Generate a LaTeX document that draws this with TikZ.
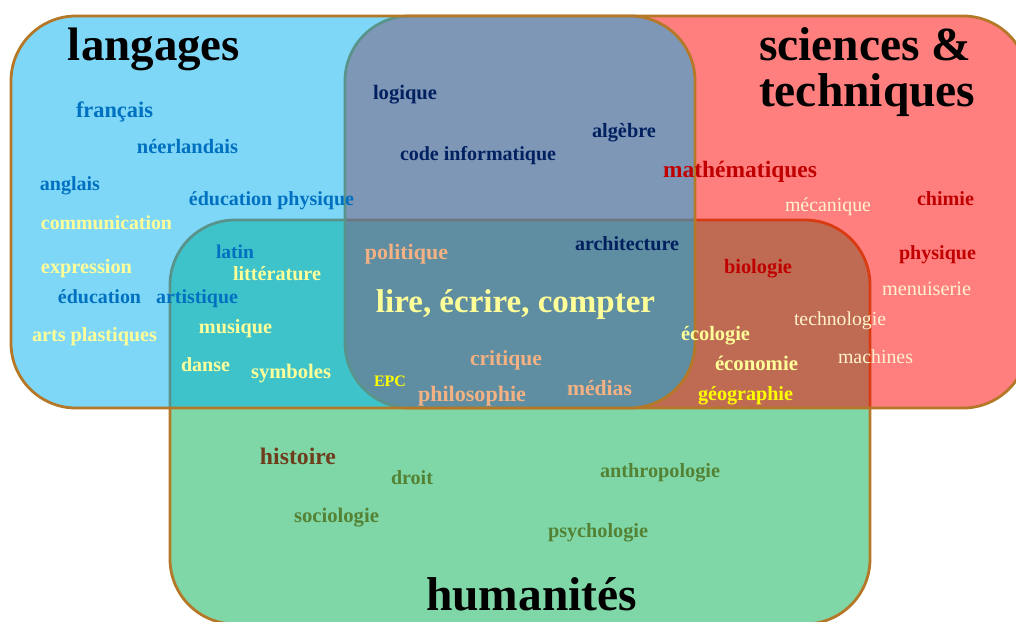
\documentclass[tikz,border=0pt]{standalone}
\usepackage{fontspec}
\setmainfont{Liberation Serif}
\usepackage{graphicx}
\definecolor{zblue}{HTML}{00B0F0}
\definecolor{zred}{HTML}{FF0000}
\definecolor{zgreen}{HTML}{00B050}
\definecolor{bordercol}{HTML}{B47828}
\definecolor{cblue}{HTML}{0070C0}
\definecolor{cpale}{HTML}{FFFF99}
\definecolor{ctan}{HTML}{F4B183}
\definecolor{cyel}{HTML}{FFFF00}
\definecolor{cnavy}{HTML}{002060}
\definecolor{cdred}{HTML}{C00000}
\definecolor{ccream}{HTML}{FFF2CC}
\definecolor{colive}{HTML}{548235}
\definecolor{cbrown}{HTML}{6E3E1C}
\newcommand{\fitto}[2]{\resizebox{#1pt}{!}{#2}}
\begin{document}
\begin{tikzpicture}[x=1pt,y=-1pt,
  lab/.style={inner sep=0pt, outer sep=0pt, anchor=base, yshift=-2pt},
  zone/.style={fill opacity=0.5, draw=bordercol, line width=2.8pt, rounded corners=65pt},
  tblue/.style={lab, text=cblue},
  tpale/.style={lab, text=cpale},
  ttan/.style={lab, text=ctan},
  tyel/.style={lab, text=cyel},
  tnavy/.style={lab, text=cnavy},
  tdred/.style={lab, text=cdred},
  tcream/.style={lab, text=ccream},
  tolive/.style={lab, text=colive},
  ttitle/.style={lab, text=black}]
\useasboundingbox (0,0) rectangle (1016,621);
\fill[white] (0,0) rectangle (1016,621);
\begin{scope}
\clip (0,0) rectangle (1016,621);
\path[zone, fill=zgreen] (170,220) rectangle (870,624);
\path[zone, fill=zred] (345,16) rectangle (1028,408);
\path[zone, fill=zblue] (11,16) rectangle (695,408);
\end{scope}

% titles
\node[ttitle] (langages) at (154,58) {\fitto{172}{\bfseries langages}};
\node[lab, anchor=base west, text=black] (sciences) at (759,58)
  {\fontsize{47.5}{45}\selectfont\bfseries\begin{tabular}[t]{@{}l@{}}sciences \&\\techniques\end{tabular}};
\node[ttitle] (humanites) at (531.5,608) {\fitto{211}{\bfseries humanités}};

% blue
\node[tblue] (francais) at (114.5,115) {\fitto{77}{\bfseries français}};
\node[tblue] (neerl) at (187.5,151) {\fitto{101}{\bfseries néerlandais}};
\node[tblue] (anglais) at (70,188) {\fitto{60}{\bfseries anglais}};
\node[tblue] (edphys) at (271.5,203) {\fitto{165}{\bfseries éducation physique}};
\node[tblue] (latin) at (235,256) {\fitto{38}{\bfseries latin}};
\node[tblue] (edart) at (148,301) {\fitto{180}{\bfseries éducation\hspace{0.75em}artistique}};

% pale yellow
\node[tpale] (comm) at (106.5,227) {\fitto{131}{\bfseries communication}};
\node[tpale] (expr) at (86.5,271) {\fitto{91}{\bfseries expression}};
\node[tpale] (litt) at (277,278) {\fitto{88}{\bfseries littérature}};
\node[tpale] (musique) at (235.5,331) {\fitto{73}{\bfseries musique}};
\node[tpale] (arts) at (94.5,339) {\fitto{125}{\bfseries arts plastiques}};
\node[tpale] (danse) at (205.5,369) {\fitto{49}{\bfseries danse}};
\node[tpale] (symb) at (291,376) {\fitto{80}{\bfseries symboles}};
\node[tpale] (lec) at (515.5,310) {\fitto{279}{\bfseries lire, écrire, compter}};
\node[tpale] (ecol) at (715.5,338) {\fitto{69}{\bfseries écologie}};
\node[tpale] (econ) at (756.5,368) {\fitto{83}{\bfseries économie}};

% tan
\node[ttan] (polit) at (406.5,257) {\fitto{83}{\bfseries politique}};
\node[ttan] (crit) at (506,363) {\fitto{72}{\bfseries critique}};
\node[ttan] (philo) at (472,399) {\fitto{108}{\bfseries philosophie}};
\node[ttan] (medias) at (599.5,393) {\fitto{65}{\bfseries médias}};

% yellow
\node[tyel] (epc) at (390,384) {\fitto{32}{\bfseries EPC}};
\node[tyel] (geo) at (745.5,398) {\fitto{95}{\bfseries géographie}};

% navy
\node[tnavy] (logique) at (405,97) {\fitto{64}{\bfseries logique}};
\node[tnavy] (algebre) at (624,135) {\fitto{64}{\bfseries algèbre}};
\node[tnavy] (code) at (478,158) {\fitto{156}{\bfseries code informatique}};
\node[tnavy] (archi) at (627,248) {\fitto{104}{\bfseries architecture}};

% dark red
\node[tdred] (maths) at (740,175) {\fitto{154}{\bfseries mathématiques}};
\node[tdred] (chimie) at (945.5,203) {\fitto{57}{\bfseries chimie}};
\node[tdred] (bio) at (758,271) {\fitto{68}{\bfseries biologie}};
\node[tdred] (phys) at (937.5,257) {\fitto{77}{\bfseries physique}};

% cream regular
\node[tcream] (meca) at (828,209) {\fitto{86}{mécanique}};
\node[tcream] (menu) at (926.5,293) {\fitto{89}{menuiserie}};
\node[tcream] (techno) at (840,323) {\fitto{92}{technologie}};
\node[tcream] (mach) at (875.5,361) {\fitto{75}{machines}};

% humanities
\node[lab, text=cbrown] (histoire) at (298,462) {\fitto{76}{\bfseries histoire}};
\node[tolive] (droit) at (412,482) {\fitto{42}{\bfseries droit}};
\node[tolive] (anthro) at (660,475) {\fitto{120}{\bfseries anthropologie}};
\node[tolive] (socio) at (336.5,520) {\fitto{85}{\bfseries sociologie}};
\node[tolive] (psycho) at (598,535) {\fitto{100}{\bfseries psychologie}};
\end{tikzpicture}
\end{document}
